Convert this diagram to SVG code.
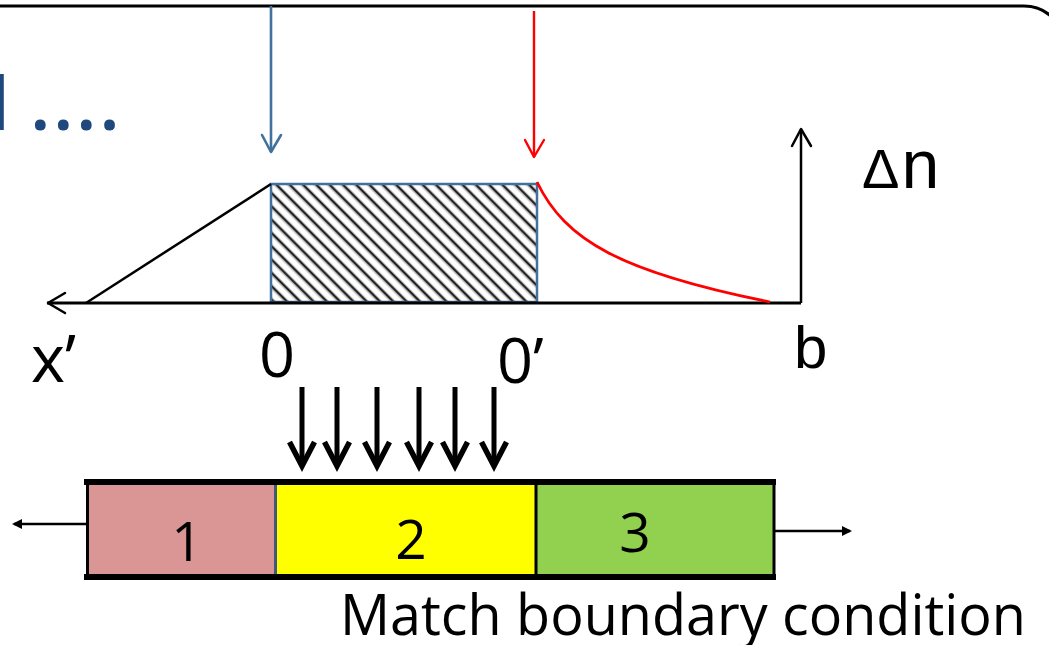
<svg xmlns="http://www.w3.org/2000/svg" xmlns:xlink="http://www.w3.org/1999/xlink" width="1049" height="645" viewBox="0 0 1049 645">
  <style>
    .lbl { font-family: "Open Sans", "Liberation Sans", sans-serif; fill: #000; }
    .arial { font-family: "Liberation Sans", Arial, sans-serif; fill: #000; }
    .thin { fill: none; stroke: #000; stroke-width: 2.5; }
    .open { fill: none; stroke-linecap: round; stroke-linejoin: round; }
    .box { stroke: none; }
    .edge { stroke: #000; stroke-width: 3; }
  </style>
  <defs>
    <pattern id="hatch" patternUnits="userSpaceOnUse" width="10" height="9.4" patternTransform="rotate(45)">
      <rect x="0" y="0" width="10" height="9.4" fill="#fff"/>
      <rect x="0" y="0" width="10" height="2.2" fill="#222"/>
      <rect x="0" y="2.2" width="10" height="1" fill="#aaa"/>
      <rect x="0" y="8.4" width="10" height="1" fill="#aaa"/>
    </pattern>
    <g id="boldArrow">
      <line x1="0" y1="0" x2="0" y2="78" stroke="#000" stroke-width="5"/>
      <polyline points="-12.5,55 0,79 12.5,55" fill="none" stroke="#000" stroke-width="5.5" stroke-linejoin="miter" stroke-linecap="butt"/>
    </g>
    <marker id="solidHead" markerWidth="10" markerHeight="10" refX="8" refY="5" orient="auto" markerUnits="userSpaceOnUse" viewBox="0 0 10 10">
      <path d="M0,0 L10,5 L0,10 Z" fill="#000"/>
    </marker>
  </defs>

  <rect x="0" y="0" width="1049" height="645" fill="#fff"/>

  <!-- frame border -->
  <path id="frame" d="M0 6 H1024 A41 41 0 0 1 1065 47" fill="none" stroke="#000" stroke-width="3"/>

  <!-- partial text at left -->
  <text id="cutText" y="130" font-family="'Open Sans', 'Liberation Sans', sans-serif" font-size="75" font-weight="600" fill="#1F497D"><tspan x="-11">l</tspan><tspan x="30" letter-spacing="2.5">....</tspan></text>

  <!-- profile plot -->
  <g id="hatchedRegion">
    <rect x="271" y="184" width="266" height="118" fill="url(#hatch)" stroke="#41719C" stroke-width="2.5"/>
  </g>

  <g id="connectors">
    <!-- left linear ramp -->
    <line x1="86" y1="303" x2="271" y2="184" class="thin"/>
    <!-- horizontal axis (x') -->
    <line x1="47" y1="303" x2="801" y2="303" stroke="#000" stroke-width="2.8"/>
    <polyline points="65,293 48,303 65,313" class="open" stroke="#000" stroke-width="2.5"/>
    <!-- vertical axis (Δn) -->
    <line x1="801" y1="303" x2="801" y2="129" stroke="#000" stroke-width="2.5"/>
    <polyline points="792,146 801,129 811,146" class="open" stroke="#000" stroke-width="2.5"/>
    <!-- red decay curve -->
    <path d="M537 182 C565 240, 620 272, 770 302" fill="none" stroke="#FF0000" stroke-width="2.8"/>
    <!-- blue arrow -->
    <line x1="271" y1="6" x2="271" y2="152" stroke="#41719C" stroke-width="2.6"/>
    <polyline points="262,135 271,152 281,135" class="open" stroke="#41719C" stroke-width="2.6"/>
    <!-- red arrow -->
    <line x1="534" y1="11" x2="534" y2="157" stroke="#FF0000" stroke-width="2.4"/>
    <polyline points="525,140 534,157 544,140" class="open" stroke="#FF0000" stroke-width="2.4"/>
    <!-- six bold arrows -->
    <use xlink:href="#boldArrow" x="302" y="387"/>
    <use xlink:href="#boldArrow" x="337" y="387"/>
    <use xlink:href="#boldArrow" x="377" y="387"/>
    <use xlink:href="#boldArrow" x="419" y="387"/>
    <use xlink:href="#boldArrow" x="455" y="387"/>
    <use xlink:href="#boldArrow" x="494" y="387"/>
    <!-- outward arrows on slab -->
    <line x1="86" y1="524" x2="14" y2="524" stroke="#000" stroke-width="2.5" marker-end="url(#solidHead)"/>
    <line x1="774" y1="531" x2="850" y2="531" stroke="#000" stroke-width="2.5" marker-end="url(#solidHead)"/>
  </g>

  <!-- axis labels -->
  <g id="labels">
    <text class="lbl" x="31" y="382" font-size="65">x’</text>
    <text class="lbl" x="259" y="377" font-size="63">0</text>
    <text class="lbl" x="497" y="383" font-size="63">0’</text>
    <text class="arial" x="794" y="368" font-size="60">b</text>
    <text class="arial" x="862" y="188"><tspan font-size="56">Δ</tspan><tspan font-size="68" dx="2">n</tspan></text>
  </g>

  <!-- slab regions -->
  <g id="region1">
    <rect class="box" x="86" y="482" width="190" height="95" fill="#D99694"/>
    <text class="lbl" x="187" y="561" font-size="55" text-anchor="middle">1</text>
  </g>
  <g id="region2">
    <rect class="box" x="276" y="482" width="260" height="95" fill="#FFFF00"/>
    <text class="lbl" x="411" y="559" font-size="55" text-anchor="middle">2</text>
  </g>
  <g id="region3">
    <rect class="box" x="536" y="482" width="238" height="95" fill="#92D050"/>
    <text class="lbl" x="635" y="552" font-size="55" text-anchor="middle">3</text>
  </g>
  <g id="slabEdges">
    <line class="edge" x1="87.5" y1="482" x2="87.5" y2="577"/>
    <line x1="275.5" y1="482" x2="275.5" y2="577" stroke="#3F5A7F" stroke-width="3"/>
    <line class="edge" x1="536" y1="482" x2="536" y2="577"/>
    <line class="edge" x1="774" y1="482" x2="774" y2="577"/>
    <line x1="84" y1="482" x2="776" y2="482" stroke="#000" stroke-width="6"/>
    <line x1="84" y1="577" x2="776" y2="577" stroke="#000" stroke-width="6"/>
  </g>

  <g id="caption">
    <text class="lbl" x="340" y="635" font-size="56" textLength="686" lengthAdjust="spacingAndGlyphs">Match boundary condition</text>
  </g>
</svg>
